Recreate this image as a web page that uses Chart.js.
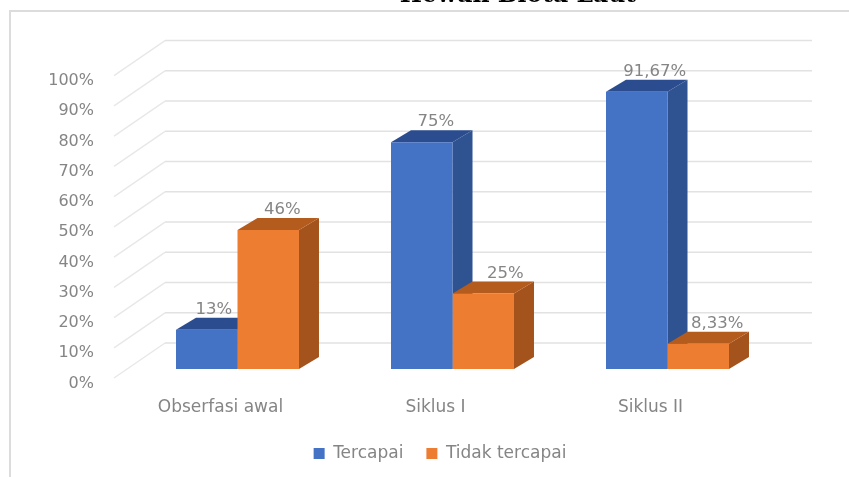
<!DOCTYPE html>
<html>
<head>
<meta charset="utf-8">
<title>Hewan Biota Laut</title>
<script src="https://cdn.jsdelivr.net/npm/chart.js@4"></script>
<style>
  html, body { margin: 0; padding: 0; background: #fff; overflow: hidden; }
  #wrap { width: 849px; height: 477px; }
</style>
</head>
<body>
<div id="wrap"><canvas id="myChart"></canvas></div>
<script>
const categories = ["Obserfasi awal", "Siklus I", "Siklus II"];
const tercapai = [13, 75, 91.67];
const tidakTercapai = [46, 25, 8.33];
const seriesNames = ["Tercapai", "Tidak tercapai"];
const yTicks = [0, 10, 20, 30, 40, 50, 60, 70, 80, 90, 100];
const chartTitle = "Hewan Biota Laut";

const blue = { front: "#4472c4", top: "#2b4d8f", side: "#2f5290" };
const orange = { front: "#ed7d31", top: "#b45b1e", side: "#a4531c" };
const textGrey = "#858585";
const depth = { x: 20, y: -12 };
// data labels sit a little differently on each bar in the original
const labelNudge = [[7, 14, 18], [14, 22, 19]];

const poly = (ctx, pts, color) => {
  ctx.fillStyle = color;
  ctx.beginPath();
  pts.forEach(([x, y], i) => (i ? ctx.lineTo(x, y) : ctx.moveTo(x, y)));
  ctx.closePath();
  ctx.fill();
};

const frame3d = {
  id: "frame3d",
  afterLayout(chart) {
    // title and legend are off centre in the picture
    chart.titleBlock.left += 241;
    chart.legend.left += 85;
  },
  beforeDraw(chart) {
    const { ctx } = chart;
    ctx.save();
    ctx.strokeStyle = "#dcdcdc";
    ctx.lineWidth = 2;
    ctx.beginPath();
    ctx.moveTo(849, 11);
    ctx.lineTo(10, 11);
    ctx.lineTo(10, 477);
    ctx.stroke();
    ctx.restore();
  },
  beforeDatasetsDraw(chart) {
    const { ctx, scales } = chart;
    const wallX = 165, farLeftX = 114, gridRight = 812;
    ctx.save();
    yTicks.forEach((v) => {
      const yp = scales.y.getPixelForValue(v);
      ctx.lineWidth = 1.5;
      ctx.strokeStyle = "#e8e8e8";
      ctx.beginPath();
      ctx.moveTo(farLeftX, yp + 9);
      ctx.lineTo(wallX, yp - 26);
      ctx.stroke();
      ctx.strokeStyle = "#e2e2e2";
      ctx.beginPath();
      ctx.moveTo(wallX, yp - 26);
      ctx.lineTo(gridRight, yp - 26);
      ctx.stroke();
    });
    [blue, orange].forEach((c, i) => {
      chart.getDatasetMeta(i).data.forEach((bar) => {
        const l = bar.x - bar.width / 2, r = bar.x + bar.width / 2;
        const t = bar.y, b = bar.base;
        poly(ctx, [[r, t], [r + depth.x, t + depth.y], [r + depth.x, b + depth.y], [r, b]], c.side);
        poly(ctx, [[l, t], [l + depth.x, t + depth.y], [r + depth.x, t + depth.y], [r, t]], c.top);
      });
    });
    ctx.restore();
  },
  afterDatasetsDraw(chart) {
    const { ctx } = chart;
    ctx.save();
    ctx.font = "16.5px 'DejaVu Sans'";
    ctx.fillStyle = textGrey;
    ctx.textAlign = "center";
    ctx.textBaseline = "middle";
    chart.data.datasets.forEach((ds, i) => {
      chart.getDatasetMeta(i).data.forEach((bar, j) => {
        const txt = String(ds.data[j]).replace(".", ",") + "%";
        ctx.fillText(txt, bar.x + labelNudge[i][j], bar.y - 20);
      });
    });
    ctx.restore();
  },
};

new Chart(document.getElementById("myChart"), {
  type: "bar",
  data: {
    labels: categories,
    datasets: [
      { label: seriesNames[0], data: tercapai, backgroundColor: blue.front, borderWidth: 0 },
      { label: seriesNames[1], data: tidakTercapai, backgroundColor: orange.front, borderWidth: 0 },
    ],
  },
  options: {
    responsive: true,
    maintainAspectRatio: false,
    animation: false,
    layout: { padding: { top: -18, left: 20, right: 74, bottom: 5 } },
    datasets: { bar: { barPercentage: 1, categoryPercentage: 0.572 } },
    scales: {
      x: {
        afterFit(scale) { scale.height = 53; },
        grid: { display: false, drawTicks: false },
        border: { display: false },
        ticks: {
          color: textGrey,
          font: { family: "'DejaVu Sans'", size: 17 },
          padding: 28,
          labelOffset: -17,
          maxRotation: 0,
        },
      },
      y: {
        min: 0,
        max: 100,
        afterFit(scale) { scale.width = 110; },
        afterBuildTicks(scale) { scale.ticks = yTicks.map((value) => ({ value })); },
        grid: { display: false, drawTicks: false },
        border: { display: false },
        ticks: {
          color: textGrey,
          font: { family: "'DejaVu Sans'", size: 16 },
          padding: 36,
          labelOffset: 14.5,
          callback: (v) => v + "%",
        },
      },
    },
    plugins: {
      title: {
        display: true,
        text: chartTitle,
        color: "#000",
        font: { family: "'DejaVu Serif'", size: 23.5, weight: "bold" },
        padding: { top: 0, bottom: 56.4 },
      },
      legend: {
        position: "bottom",
        labels: {
          color: textGrey,
          font: { family: "'DejaVu Sans'", size: 17 },
          boxWidth: 11,
          boxHeight: 11,
          padding: 23,
        },
      },
      tooltip: { enabled: false },
    },
  },
  plugins: [frame3d],
});
</script>
</body>
</html>
